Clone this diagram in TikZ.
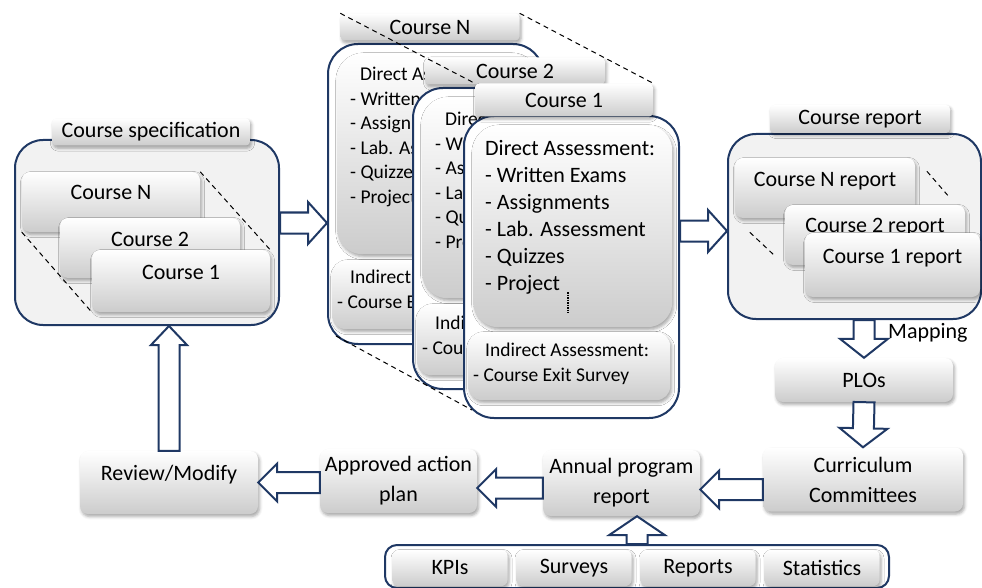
\documentclass[tikz,border=0pt]{standalone}
\usepackage{xcolor}
\usepackage{fontspec}
\setmainfont{Carlito}
\usetikzlibrary{calc,shadows.blur}

\definecolor{navy}{RGB}{31,56,100}
\definecolor{panelgray}{RGB}{242,242,242}

% hollow block arrow from #2 (tail) to #3 (tip), #1 = half width of the head
\newcommand{\blockarrow}[3][21pt]{%
  \draw[hollow] ($(#2)!10.5pt!90:(#3)$)
    -- ($(#3)!19pt!(#2)!10.5pt!90:(#3)$)
    -- ($(#3)!19pt!(#2)!#1!90:(#3)$)
    -- (#3)
    -- ($(#3)!19pt!(#2)!#1!-90:(#3)$)
    -- ($(#3)!19pt!(#2)!10.5pt!-90:(#3)$)
    -- ($(#2)!10.5pt!-90:(#3)$) -- cycle;}

\begin{document}
\begin{tikzpicture}[x=1pt, y=-1pt,
    every node/.style={font=\fontsize{22}{27}\selectfont, inner sep=2pt},
    small/.style={font=\fontsize{19.5}{24.5}\selectfont},
    twoline/.style={align=center, font=\fontsize{22}{30}\selectfont},
    glossy/.style={top color=white, bottom color=black!20,
        blur shadow={shadow xshift=1.5pt, shadow yshift=-2.5pt,
                     shadow blur radius=3pt, shadow opacity=35}},
    box/.style={glossy, rounded corners=8pt, inner sep=0pt},
    titletab/.style={glossy, rounded corners=4pt},
    lifted/.style={text height=14pt, text depth=18pt},
    holder/.style={draw=navy, line width=2pt, fill=panelgray,
        rounded corners=28pt, anchor=north west},
    card/.style={draw=navy, line width=2pt, fill=white,
        rounded corners=30pt, anchor=north west},
    perspective/.style={line width=1pt, dash pattern=on 5pt off 4pt},
    hollow/.style={draw=navy, fill=white, line width=2pt, line join=miter},
  ]
  \useasboundingbox (0,0) rectangle (982,588);

  % course specification
  \node[holder, minimum width=264pt, minimum height=185pt] (specbg) at (14,139) {};
  \node[box, lifted, minimum width=178pt, minimum height=60pt] (specN) at (111,202) {Course N};
  \node[box, lifted, minimum width=180pt, minimum height=60pt] (spec2) at (150,248) {Course 2};
  \node[box, lifted, minimum width=178pt, minimum height=62pt] (spec1) at (181,281) {Course 1};
  \node[titletab, minimum width=198pt, minimum height=27pt] (spectab) at (151,132) {Course specification};
  \draw[perspective] (specN.north east) -- (spec1.north east);
  \draw[perspective] (specN.south west) -- (spec1.south west);

  % course N (back)
  \node[card, minimum width=215pt, minimum height=300pt] (cN) at (327,43) {};
  \node[glossy, anchor=north west, minimum width=198pt, minimum height=201pt, rounded corners=25pt] (cNdirect) at (337,53) {};
  \node[glossy, anchor=north west, minimum width=202pt, minimum height=69pt, rounded corners=14pt] (cNindirect) at (332,260) {};
  \node[titletab, minimum width=179pt, minimum height=27pt] (cNtab) at (430,27) {Course N};
  \node[small, anchor=north west, align=left, inner sep=0pt] (cNlist) at (350,67)
    {\hspace*{10pt}Direct Assessment:\\- Written Exams\\- Assignments\\- Lab. Assessment\\- Quizzes\\- Project};
  \node[small, anchor=north west, align=left, inner sep=0pt] (cNsurvey) at (337,270)
    {\hspace*{13pt}Indirect Assessment:\\- Course Exit Survey};

  % course 2
  \node[card, minimum width=215pt, minimum height=301pt] (c2) at (412,87) {};
  \node[glossy, anchor=north west, minimum width=198pt, minimum height=201pt, rounded corners=25pt] (c2direct) at (422,97) {};
  \node[glossy, anchor=north west, minimum width=202pt, minimum height=71pt, rounded corners=14pt] (c2indirect) at (417,304) {};
  \node[titletab, minimum width=180pt, minimum height=27pt] (c2tab) at (515,71) {Course 2};
  \node[small, anchor=north west, align=left, inner sep=0pt] (c2list) at (435,112)
    {\hspace*{10pt}Direct Assessment:\\- Written Exams\\- Assignments\\- Lab. Assessment\\- Quizzes\\- Project};
  \node[small, anchor=north west, align=left, inner sep=0pt] (c2survey) at (422,316)
    {\hspace*{13pt}Indirect Assessment:\\- Course Exit Survey};

  % course 1 (front)
  \node[card, minimum width=215pt, minimum height=302pt] (c1) at (463,115) {};
  \node[glossy, anchor=north west, minimum width=199pt, minimum height=202pt, rounded corners=25pt] (c1direct) at (473,125) {};
  \node[glossy, anchor=north west, minimum width=202pt, minimum height=68pt, rounded corners=14pt] (c1indirect) at (468,332) {};
  \node[titletab, minimum width=178pt, minimum height=33pt] (c1tab) at (564,100) {Course 1};
  \node[anchor=north west, align=left, inner sep=0pt] (c1list) at (485,140)
    {Direct Assessment:\\- Written Exams\\- Assignments\\- Lab. Assessment\\- Quizzes\\- Project};
  \draw[densely dotted, line width=1.5pt] (568,292) -- (568,313);
  \node[small, anchor=north west, align=left, inner sep=0pt] (c1survey) at (473,343)
    {\hspace*{12pt}Indirect Assessment:\\- Course Exit Survey};

  \draw[perspective] (cNtab.north west) -- (c1tab.north west);
  \draw[perspective] (cNtab.north east) -- (c1tab.north east);
  \draw[perspective] ([xshift=9pt,yshift=9pt]cN.south west) -- ([xshift=9pt,yshift=9pt]c1.south west);

  % course reports
  \node[holder, minimum width=253pt, minimum height=185pt] (rep) at (727,133) {};
  \node[box, lifted, minimum width=180pt, minimum height=60pt] (repN) at (825,188) {Course N report};
  \node[box, lifted, minimum width=180pt, minimum height=60pt] (rep2) at (875,235) {Course 2 report};
  \node[box, lifted, minimum width=175pt, minimum height=64pt] (rep1) at (892.5,265) {Course 1 report};
  \node[titletab, minimum width=180pt, minimum height=28pt] (reptab) at (860,119) {Course report};
  \draw[perspective] ($(repN.north east)!.18!(rep1.north east)$) -- ($(repN.north east)!.5!(rep1.north east)$);
  \draw[perspective] ($(repN.south west)!.3!(rep2.south west)$) -- ($(repN.south west)!.8!(rep2.south west)$);

  % program level
  \node[box, minimum width=178pt, minimum height=44pt] (plo) at (864,380) {PLOs};
  \node[anchor=west] (maptext) at (886,333) {Mapping};
  \node[box, twoline, minimum width=200pt, minimum height=64pt] (cur) at (863,479.5) {Curriculum\\Committees};
  \node[box, twoline, minimum width=157pt, minimum height=66pt] (apr) at (621.5,483) {Annual program\\report};
  \node[box, twoline, minimum width=157pt, minimum height=64pt] (act) at (398.5,481) {Approved action\\plan};
  \node[box, lifted, minimum width=178pt, minimum height=63pt] (rev) at (169,482.5) {Review/Modify};

  % sources of the annual report
  \node[draw=navy, line width=2pt, fill=white, rounded corners=12pt, anchor=north west,
        minimum width=504pt, minimum height=43pt] (bar) at (384,544) {};
  \foreach \lbl [count=\i] in {KPIs,Surveys,Reports,Statistics}
    \node[box, rounded corners=6pt, minimum width=115pt, minimum height=36pt] (cell\i) at (450+124*\i-124,568) {\lbl};

  % flow
  \coordinate (a1) at ([yshift=9.5pt]specbg.east);
  \coordinate (a2) at ([yshift=36pt]c1.east);
  \coordinate (a5) at ([yshift=-10pt]cur.west);
  \coordinate (a6) at ([yshift=-5pt]apr.west);
  \blockarrow{a1}{cN.west |- a1}
  \blockarrow{a2}{rep.west |- a2}
  \blockarrow[24pt]{plo.north |- rep.south}{plo.north}
  \blockarrow[24pt]{plo.south}{cur.north}
  \blockarrow[19pt]{a5}{apr.east |- a5}
  \blockarrow[19pt]{a6}{act.east |- a6}
  \blockarrow[19pt]{act.west |- rev.east}{rev.east}
  \blockarrow[28pt]{bar.north}{apr.south -| bar.north}
  \blockarrow[18pt]{rev.north}{specbg.south -| rev.north}
\end{tikzpicture}
\end{document}
